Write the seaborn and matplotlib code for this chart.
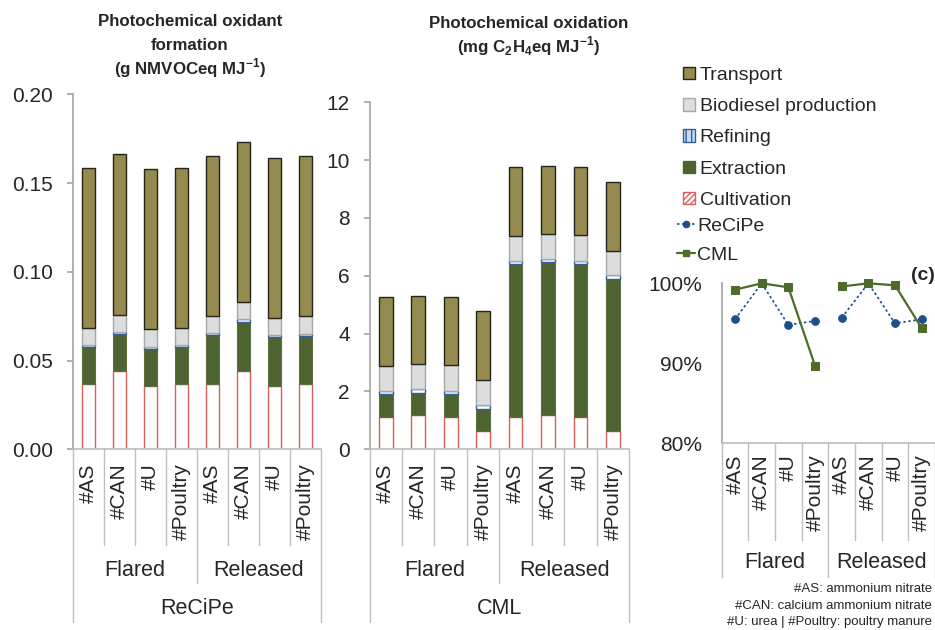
import matplotlib
matplotlib.use("Agg")
import numpy as np
import matplotlib.pyplot as plt
import matplotlib.transforms as mtransforms
from matplotlib.lines import Line2D
from matplotlib.patches import Patch
from matplotlib.ticker import PercentFormatter, FormatStrFormatter
import seaborn as sns

# ------------------------
# Data
# ------------------------
FERTILISERS = ["#AS", "#CAN", "#U", "#Poultry", "#AS", "#CAN", "#U", "#Poultry"]
SCENARIOS = ["Flared", "Released"]
STAGES = ["Cultivation", "Extraction", "Refining", "Biodiesel production", "Transport"]

# ReCiPe: photochemical oxidant formation, g NMVOCeq MJ-1
recipe_cultivation = [0.0366, 0.0441, 0.0355, 0.0366, 0.0366, 0.0441, 0.0355, 0.0366]
recipe_extraction = [0.0209, 0.0209, 0.0208, 0.0209, 0.0276, 0.0278, 0.0278, 0.0274]
recipe_refining = [0.0011, 0.0013, 0.0015, 0.0011, 0.0011, 0.0013, 0.0011, 0.0012]
recipe_biodiesel = [0.0098, 0.0096, 0.0098, 0.0096, 0.0098, 0.0096, 0.0098, 0.0097]
recipe_transport = [0.0903, 0.0903, 0.0901, 0.0903, 0.0903, 0.0903, 0.0901, 0.0904]

# CML: photochemical oxidation, mg C2H4eq MJ-1
cml_cultivation = [1.13, 1.18, 1.13, 0.63, 1.13, 1.18, 1.13, 0.63]
cml_extraction = [0.78, 0.78, 0.78, 0.78, 5.28, 5.28, 5.28, 5.26]
cml_refining = [0.12, 0.11, 0.12, 0.11, 0.11, 0.11, 0.11, 0.13]
cml_biodiesel = [0.86, 0.87, 0.87, 0.87, 0.87, 0.87, 0.88, 0.85]
cml_transport = [2.37, 2.36, 2.37, 2.38, 2.36, 2.36, 2.36, 2.39]

# panel (c), %
share_recipe = [95.5, 100.0, 94.8, 95.3, 95.7, 100.0, 95.0, 95.5]
share_cml = [99.2, 100.0, 99.5, 89.7, 99.6, 100.0, 99.75, 94.4]

FOOTNOTE = ["#AS: ammonium nitrate",
            "#CAN: calcium ammonium nitrate",
            "#U: urea | #Poultry: poultry manure"]

# ------------------------
# Styles
# ------------------------
STYLE = {
    "Transport": dict(fc="#958A50", ec="#262618", lw=1.0),
    "Biodiesel production": dict(fc="#DCDDDF", ec="#A8A8A8", lw=1.0),
    "Refining": dict(fc="#FFFFFF", ec="#2F5F9A", lw=1.0),
    "Extraction": dict(fc="#4D6330", ec="#5E6F40", lw=0.8),
    "Cultivation": dict(fc="#FFFFFF", ec="#D9605E", lw=1.0),
}
SPINE_GREY = "#A6A6A6"
LINE_GREY = "#BFBFBF"
TEXT = "#262626"
BLUE = "#1F4E8C"
GREEN = "#4F6B2B"

W, H = 935, 630
sns.set_theme(style="white")
plt.rcParams["font.family"] = ["Liberation Sans", "DejaVu Sans"]
plt.rcParams["mathtext.fontset"] = "custom"
plt.rcParams["mathtext.rm"] = "Liberation Sans"
plt.rcParams["mathtext.bf"] = "Liberation Sans:bold"
plt.rcParams["text.color"] = TEXT


def fx(px):
    return px / W


def fy(py):
    return 1 - py / H


fig = plt.figure(figsize=(W / 100, H / 100), dpi=100)
ax1 = fig.add_axes([fx(72.7), fy(449.3), fx(321) - fx(72.7), (449.3 - 94.3) / H])
ax2 = fig.add_axes([fx(369.5), fy(449.3), fx(629.3) - fx(369.5), (449.3 - 102.3) / H])
ax3 = fig.add_axes([fx(721.7), fy(443.3), fx(935) - fx(721.7), (443.3 - 283.3) / H])


def stacked_bars(ax, segments):
    pos = np.arange(len(FERTILISERS))
    bottom = np.zeros(len(pos))
    for stage, vals in zip(STAGES, segments):
        st = STYLE[stage]
        sns.barplot(x=pos, y=vals, ax=ax, bottom=bottom.copy(), width=0.42,
                    errorbar=None, color=st["fc"], saturation=1,
                    facecolor=st["fc"], edgecolor=st["ec"], linewidth=st["lw"])
        bottom += np.array(vals)


def style_axis(ax):
    for s in ["top", "right"]:
        ax.spines[s].set_visible(False)
    ax.spines["left"].set_color(SPINE_GREY)
    ax.spines["bottom"].set_color(LINE_GREY)
    ax.set_xlabel("")
    ax.set_ylabel("")
    ax.set_xlim(-0.5, 7.5)
    ax.set_xticks(range(len(FERTILISERS)))
    ax.set_xticklabels(FERTILISERS, rotation=90, fontsize=15, color=TEXT)
    ax.tick_params(axis="x", length=0, pad=10)


def category_axis(ax, inner_end, mid_end, outer_end, group_y, top_label=None, top_y=None):
    tr = mtransforms.blended_transform_factory(ax.transData, fig.transFigure)
    y0 = ax.get_position().y0
    for b in np.arange(-0.5, 8, 1.0):
        if b in (-0.5, 7.5):
            end = outer_end
        elif b == 3.5:
            end = mid_end
        else:
            end = inner_end
        fig.add_artist(Line2D([b, b], [y0, fy(end)], transform=tr,
                              color=LINE_GREY, lw=1))
    for x, lab in zip([1.5, 5.5], SCENARIOS):
        ax.text(x, fy(group_y), lab, transform=tr, ha="center", va="center",
                fontsize=15.5, color=TEXT)
    if top_label:
        ax.text(3.5, fy(top_y), top_label, transform=tr, ha="center", va="center",
                fontsize=15.5, color=TEXT)


# ------------------------
# (a) ReCiPe
# ------------------------
stacked_bars(ax1, [recipe_cultivation, recipe_extraction, recipe_refining,
                   recipe_biodiesel, recipe_transport])
style_axis(ax1)
ax1.set_ylim(0, 0.20)
ax1.set_yticks(np.arange(0, 0.201, 0.05))
ax1.yaxis.set_major_formatter(FormatStrFormatter("%.2f"))
ax1.tick_params(axis="y", length=4.3, color=SPINE_GREY, labelsize=15, pad=10,
                labelcolor=TEXT, left=True)
category_axis(ax1, 545, 583, 622, 571, "ReCiPe", 609)

# ------------------------
# (b) CML
# ------------------------
stacked_bars(ax2, [cml_cultivation, cml_extraction, cml_refining,
                   cml_biodiesel, cml_transport])
style_axis(ax2)
ax2.set_ylim(0, 12)
ax2.set_yticks(np.arange(0, 13, 2))
ax2.tick_params(axis="y", length=4.3, color=SPINE_GREY, labelsize=15, pad=10,
                labelcolor=TEXT, left=True)
category_axis(ax2, 545, 583, 622, 571, "CML", 609)

# ------------------------
# (c) share lines
# ------------------------
for grp in [slice(0, 4), slice(4, 8)]:
    xs = np.arange(8)[grp]
    sns.lineplot(x=xs, y=share_recipe[grp], ax=ax3, color=BLUE, linestyle=(0, (1.5, 1.5)),
                 linewidth=1.2, marker="o", markersize=5.5, markeredgecolor=BLUE,
                 clip_on=False, zorder=3)
    sns.lineplot(x=xs, y=share_cml[grp], ax=ax3, color=GREEN, linestyle="-",
                 linewidth=1.6, marker="s", markersize=6, markeredgecolor=GREEN,
                 clip_on=False, zorder=4)
style_axis(ax3)
ax3.tick_params(axis="x", pad=8)
ax3.set_ylim(80, 100)
ax3.set_yticks([80, 90, 100])
ax3.yaxis.set_major_formatter(PercentFormatter(decimals=0))
ax3.tick_params(axis="y", length=0, labelsize=15, pad=14, labelcolor=TEXT)
category_axis(ax3, 540, 577, 577, 563)

# ------------------------
# Titles, legend, notes
# ------------------------
for y, line in zip([26, 50, 74], ["Photochemical oxidant", "formation",
                                  r"(g NMVOCeq MJ$^{\mathbf{-1}}$)"]):
    fig.text(fx(190), fy(y), line, ha="center", va="baseline", fontsize=12.2,
             fontweight="bold", color=TEXT)
for y, line in zip([28, 52], ["Photochemical oxidation",
                              r"(mg C$_{\mathbf{2}}$H$_{\mathbf{4}}$eq MJ$^{\mathbf{-1}}$)"]):
    fig.text(fx(529), fy(y), line, ha="center", va="baseline", fontsize=12.2,
             fontweight="bold", color=TEXT)

fig.text(fx(923), fy(276), "(c)", ha="center", va="center", fontsize=14,
         fontweight="bold", color=TEXT)

patch_handles = [
    Patch(facecolor="#958A50", edgecolor="#262618", label="Transport"),
    Patch(facecolor="#DCDDDF", edgecolor="#A8A8A8", label="Biodiesel production"),
    Patch(facecolor="#C9DCF0", edgecolor="#2F5F9A", hatch="|||", label="Refining"),
    Patch(facecolor="#4D6330", edgecolor="#4D6330", label="Extraction"),
    Patch(facecolor="#FFFFFF", edgecolor="#D9605E", hatch="//////", label="Cultivation"),
]
leg1 = fig.legend(handles=patch_handles, loc="upper left",
                  bbox_to_anchor=(fx(683), fy(67)), frameon=False, fontsize=14,
                  handlelength=0.6, handleheight=0.6, handletextpad=0.25,
                  labelspacing=0.73, borderpad=0, borderaxespad=0)
line_handles = [
    Line2D([], [], color=BLUE, linestyle=(0, (1.5, 1.5)), lw=1.2, marker="o",
           markersize=4.5, label="ReCiPe"),
    Line2D([], [], color=GREEN, linestyle="-", lw=1.6, marker="s",
           markersize=4.5, label="CML"),
]
leg2 = fig.legend(handles=line_handles, loc="upper left",
                  bbox_to_anchor=(fx(677), fy(217)), frameon=False, fontsize=14,
                  handlelength=0.95, handletextpad=0.1, labelspacing=0.58,
                  borderpad=0, borderaxespad=0)

for y, line in zip([589, 606, 622], FOOTNOTE):
    fig.text(fx(932), fy(y), line, ha="right", va="center", fontsize=9.5, color=TEXT)

fig.savefig("out.png", dpi=100, facecolor="white")
